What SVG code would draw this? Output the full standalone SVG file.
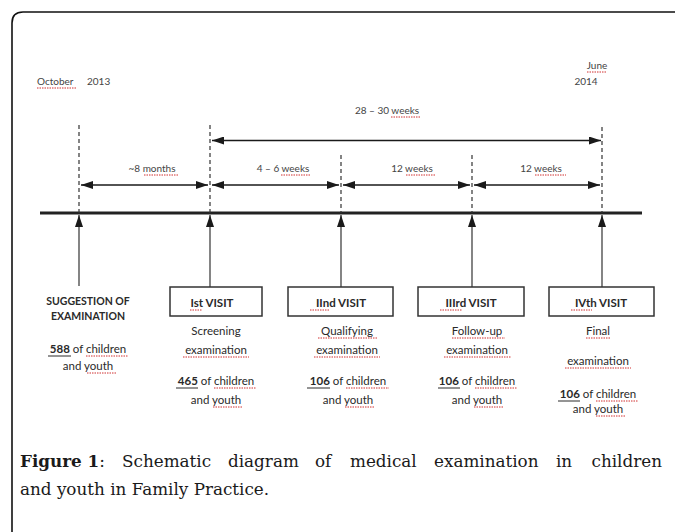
<svg xmlns="http://www.w3.org/2000/svg" width="675" height="532" viewBox="0 0 675 532">
<defs>
<marker id="ah" viewBox="0 0 12 8" refX="12" refY="4" markerWidth="12" markerHeight="8" markerUnits="userSpaceOnUse" orient="auto-start-reverse">
<path d="M0,0 L12,4 L0,8 Z" fill="#1a1a1a"/>
</marker>
</defs>
<style>
.t{font-family:Lato,"Open Sans","Liberation Sans",sans-serif;font-size:11.5px;fill:#2a2a2a;text-anchor:middle}
.s{font-size:10px;fill:#444}
.st{text-anchor:start}
.b{font-weight:bold}
.dash{stroke:#333;stroke-width:1.2;stroke-dasharray:4 3;fill:none}
.arr{stroke:#1a1a1a;stroke-width:1.6;fill:none}
.box{fill:#fff;stroke:#333;stroke-width:1.5}
.up{stroke:#333;stroke-width:1.2;fill:none}
.sp{stroke:#d03030;stroke-width:1;stroke-dasharray:1.5 1;fill:none}
.ul{stroke:#2a2a2a;stroke-width:1;fill:none}
.cap{font-family:"DejaVu Serif","Liberation Serif",serif;font-size:16.8px;fill:#1a1a1a}
</style>
<rect width="675" height="532" fill="#fff"/>
<path d="M12,532 L12,23 Q12,12 23,12 L675,12" fill="none" stroke="#111" stroke-width="1.6"/>

<g id="timeline">
<line x1="40" y1="213" x2="642" y2="213" stroke="#222" stroke-width="3"/>
<text class="t s st" x="37" y="85">October</text>
<text class="t s st" x="87" y="85">2013</text>
<path class="sp" d="M37,88 H76"/>
<text class="t s" x="597" y="69">June</text>
<path class="sp" d="M587,72 H606"/>
<text class="t s" x="586" y="85">2014</text>
</g>

<g id="connectors">
<line class="dash" x1="79" y1="125" x2="79" y2="213"/>
<line class="dash" x1="210" y1="125" x2="210" y2="213"/>
<line class="dash" x1="341" y1="155" x2="341" y2="213"/>
<line class="dash" x1="472" y1="155" x2="472" y2="213"/>
<line class="dash" x1="602" y1="127" x2="602" y2="213"/>
<line class="arr" x1="212" y1="140.5" x2="601" y2="140.5" marker-start="url(#ah)" marker-end="url(#ah)"/>
<line class="arr" x1="81" y1="185" x2="208" y2="185" marker-start="url(#ah)" marker-end="url(#ah)"/>
<line class="arr" x1="212" y1="185" x2="339" y2="185" marker-start="url(#ah)" marker-end="url(#ah)"/>
<line class="arr" x1="343" y1="185" x2="470" y2="185" marker-start="url(#ah)" marker-end="url(#ah)"/>
<line class="arr" x1="474" y1="185" x2="600" y2="185" marker-start="url(#ah)" marker-end="url(#ah)"/>
<line class="up" x1="79" y1="286" x2="79" y2="215" marker-end="url(#ah)"/>
<line class="up" x1="210" y1="287" x2="210" y2="215" marker-end="url(#ah)"/>
<line class="up" x1="341" y1="287" x2="341" y2="215" marker-end="url(#ah)"/>
<line class="up" x1="472" y1="287" x2="472" y2="215" marker-end="url(#ah)"/>
<line class="up" x1="602" y1="287" x2="602" y2="215" marker-end="url(#ah)"/>
</g>

<g id="labels">
<text class="t s" x="387" y="114">28 – 30 weeks</text>
<path class="sp" d="M391,117 H421"/>
<text class="t s" x="152" y="172">~8 months</text>
<path class="sp" d="M144,175 H178"/>
<text class="t s" x="283" y="172">4 – 6 weeks</text>
<path class="sp" d="M281,175 H310"/>
<text class="t s" x="412" y="172">12  weeks</text>
<path class="sp" d="M406,175 H436"/>
<text class="t s" x="541" y="172">12  weeks</text>
<path class="sp" d="M535,175 H566"/>
</g>

<g id="suggestion">
<text class="t b" x="88" y="305" style="font-size:10.5px">SUGGESTION OF</text>
<text class="t b" x="88" y="320" style="font-size:10.5px">EXAMINATION</text>
<text class="t" x="88" y="353"><tspan font-weight="bold">588</tspan> of children</text>
<path class="ul" d="M48,356 H71"/>
<path class="sp" d="M86,356 H128"/>
<text class="t" x="88" y="370">and youth</text>
<path class="sp" d="M87,373 H117"/>
</g>

<g id="visit1">
<rect class="box" x="170" y="287" width="92" height="29"/>
<text class="t b" x="212" y="307">Ist VISIT</text>
<path class="sp" d="M190,310 H202"/>
<text class="t" x="216" y="335">Screening</text>
<text class="t" x="216" y="354">examination</text>
<path class="sp" d="M183,357 H249"/>
<text class="t" x="216" y="385"><tspan font-weight="bold">465</tspan> of children</text>
<path class="ul" d="M176,388 H198"/>
<path class="sp" d="M214,388 H256"/>
<text class="t" x="216" y="404">and youth</text>
<path class="sp" d="M213,407 H243"/>
</g>

<g id="visit2">
<rect class="box" x="288" y="287" width="105" height="29"/>
<text class="t b" x="341" y="307">IInd VISIT</text>
<path class="sp" d="M310,310 H329"/>
<text class="t" x="347" y="335">Qualifying</text>
<path class="sp" d="M318,338 H377"/>
<text class="t" x="347" y="354">examination</text>
<path class="sp" d="M314,357 H380"/>
<text class="t" x="348" y="385"><tspan font-weight="bold">106</tspan> of children</text>
<path class="ul" d="M307,388 H330"/>
<path class="sp" d="M346,388 H389"/>
<text class="t" x="348" y="404">and youth</text>
<path class="sp" d="M345,407 H375"/>
</g>

<g id="visit3">
<rect class="box" x="418" y="287" width="106" height="29"/>
<text class="t b" x="471" y="307">IIIrd VISIT</text>
<path class="sp" d="M440,310 H462"/>
<text class="t" x="477" y="335">Follow-up</text>
<path class="sp" d="M452,338 H505"/>
<text class="t" x="477" y="354">examination</text>
<path class="sp" d="M444,357 H511"/>
<text class="t" x="477" y="385"><tspan font-weight="bold">106</tspan> of children</text>
<path class="ul" d="M438,388 H460"/>
<path class="sp" d="M475,388 H517"/>
<text class="t" x="477" y="404">and youth</text>
<path class="sp" d="M474,407 H504"/>
</g>

<g id="visit4">
<rect class="box" x="549" y="287" width="105" height="29"/>
<text class="t b" x="601" y="307">IVth VISIT</text>
<path class="sp" d="M571,310 H592"/>
<text class="t" x="598" y="335">Final</text>
<path class="sp" d="M586,338 H611"/>
<text class="t" x="598" y="365">examination</text>
<path class="sp" d="M565,368 H631"/>
<text class="t" x="598" y="398"><tspan font-weight="bold">106</tspan> of children</text>
<path class="ul" d="M558,401 H580"/>
<path class="sp" d="M596,401 H638"/>
<text class="t" x="598" y="413">and youth</text>
<path class="sp" d="M596,416 H626"/>
</g>

<g id="caption">
<text class="cap" y="467"><tspan x="20" font-weight="bold">Figure 1</tspan><tspan>:</tspan><tspan x="122">Schematic</tspan><tspan x="228">diagram</tspan><tspan x="315">of</tspan><tspan x="350">medical</tspan><tspan x="434">examination</tspan><tspan x="556">in</tspan></text>
<text class="cap" x="662" y="467" text-anchor="end">children</text>
<text class="cap" x="20" y="495">and youth in Family Practice.</text>
</g>
</svg>
